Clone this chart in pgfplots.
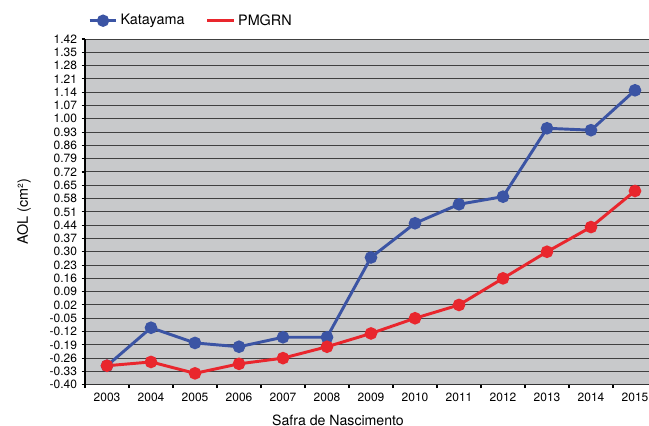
\documentclass[border=0pt]{standalone}
\usepackage{fontspec}
\setmainfont{TeX Gyre Heros}
\usepackage{pgfplots}
\pgfplotsset{compat=1.18}
\definecolor{kblue}{HTML}{3B54A4}
\definecolor{pred}{HTML}{E9262D}
\definecolor{bggray}{HTML}{C8C9CB}
\begin{document}
\begin{tikzpicture}
\begin{axis}[
  scale only axis,
  width=429pt, height=259.3pt,
  xmin=2002.5, xmax=2015.5,
  ymin=-0.40, ymax=1.42,
  axis background/.style={fill=bggray},
  axis lines*=left,
  x axis line style={black!80, line width=0.8pt},
  y axis line style={black, line width=1.5pt},
  xtick={2003,2004,2005,2006,2007,2008,2009,2010,2011,2012,2013,2014,2015},
  xticklabels={2003,2004,2005,2006,2007,2008,2009,2010,2011,2012,2013,2014,2015},
  major x tick style={draw=none},
  minor xtick={2002.5,2003.5,2004.5,2005.5,2006.5,2007.5,2008.5,2009.5,2010.5,2011.5,2012.5,2013.5,2014.5,2015.5},
  minor x tick style={black, line width=0.9pt},
  minor tick length=2.5pt,
  major tick length=2.5pt,
  tick align=outside,
  ytick={-0.40,-0.33,-0.26,-0.19,-0.12,-0.05,0.02,0.09,0.16,0.23,0.30,0.37,0.44,0.51,0.58,0.65,0.72,0.79,0.86,0.93,1.00,1.07,1.14,1.21,1.28,1.35,1.42},
  yticklabels={-0.40,-0.33,-0.26,-0.19,-0.12,-0.05,0.02,0.09,0.16,0.23,0.30,0.37,0.44,0.51,0.58,0.65,0.72,0.79,0.86,0.93,1.00,1.07,1.14,1.21,1.28,1.35,1.42},
  major y tick style={black, line width=0.8pt},
  ymajorgrids,
  major grid style={black!75, line width=0.75pt},
  tick label style={font=\fontsize{9}{10}\selectfont},
  ylabel={AOL (cm²)},
  ylabel style={at={(axis description cs:-0.0997,0.5)}, anchor=base, font=\fontsize{10.8}{12}\selectfont},
  xlabel={Safra de Nascimento},
  xlabel style={at={(axis description cs:0.4423,-0.1183)}, anchor=base, font=\fontsize{10.6}{12}\selectfont},
  title={Safra de Nascimento},
  title style={at={(axis description cs:0.4353,1.1033)}, anchor=base, font=\fontsize{10.6}{12}\selectfont},
  legend columns=2,
  legend style={at={(axis description cs:0.0052,1.0529)}, anchor=west, draw=none, fill=none, inner sep=0pt,
    font=\fontsize{10.8}{12}\selectfont,
    /tikz/every even column/.append style={column sep=14pt}},
  legend image code/.code={\draw[mark repeat=2,mark phase=2,#1] plot coordinates {(0pt,0pt) (10pt,0pt) (20pt,0pt)};},
  clip=false,
]
\addlegendimage{kblue, line width=2.2pt, mark=*, mark size=3.5pt}
\addlegendentry{Katayama}
\addlegendimage{pred, line width=2.2pt}
\addlegendentry{PMGRN}
\addplot[kblue, line width=2.2pt, mark=*, mark size=3.6pt, forget plot] coordinates {
  (2003,-0.30) (2004,-0.10) (2005,-0.18) (2006,-0.20) (2007,-0.15) (2008,-0.15)
  (2009,0.27) (2010,0.45) (2011,0.55) (2012,0.59) (2013,0.95) (2014,0.94) (2015,1.15)};
\addplot[pred, line width=2.2pt, mark=*, mark size=3.6pt, forget plot] coordinates {
  (2003,-0.30) (2004,-0.28) (2005,-0.34) (2006,-0.29) (2007,-0.26) (2008,-0.20)
  (2009,-0.13) (2010,-0.05) (2011,0.02) (2012,0.16) (2013,0.30) (2014,0.43) (2015,0.62)};
\coordinate (bl) at (rel axis cs:0,0);
\coordinate (tl) at (rel axis cs:0,1);
\end{axis}
\pgfresetboundingbox
\path[use as bounding box] ([xshift=-63.75pt,yshift=-30.2pt]bl) rectangle ([xshift=423pt,yshift=29.25pt]tl);
\end{tikzpicture}
\end{document}
